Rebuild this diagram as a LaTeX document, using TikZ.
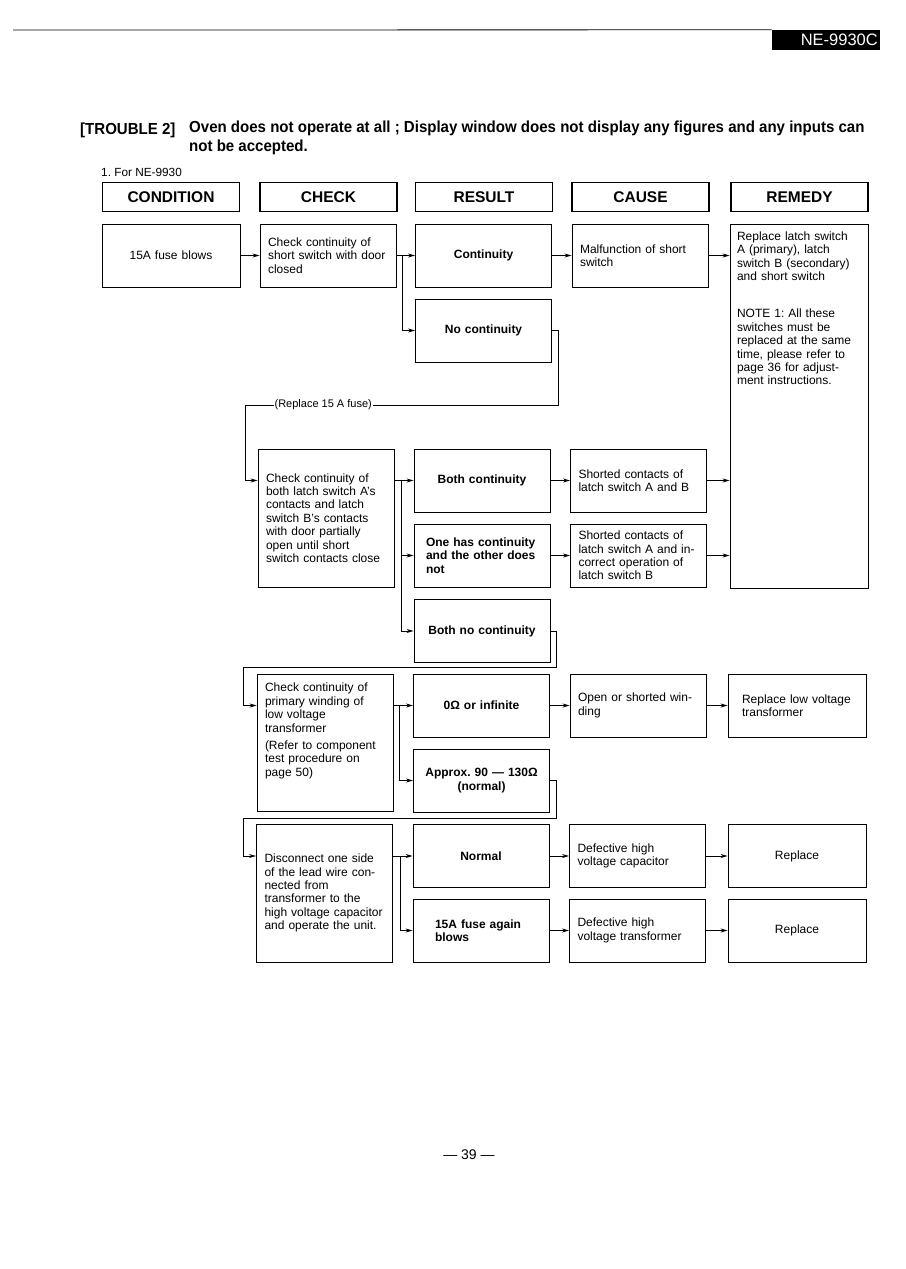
\documentclass[tikz,border=0pt]{standalone}
\usepackage{fontspec}
\setmainfont{Liberation Sans}
\newfontfamily\ttlfont[FakeStretch=0.94]{Liberation Sans}
\usetikzlibrary{arrows.meta}
\frenchspacing
\hyphenpenalty=10000

\begin{document}
\begin{tikzpicture}[x=1pt,y=-1pt,
  every node/.style={font=\fontsize{12}{13.4}\selectfont},
  hdr/.style={draw,line width=1.5pt,minimum width=137pt,minimum height=29pt,inner sep=0pt,font=\fontsize{15.5}{18}\selectfont\bfseries},
  box/.style={draw,line width=0.9pt,minimum width=136pt,minimum height=63pt,inner xsep=0pt,align=left,text width=120pt},
  res/.style={box,align=center,font=\fontsize{12}{13.4}\selectfont\bfseries},
  arr/.style={line width=0.9pt,-{Stealth[length=7pt,width=4pt]}},
  lbl/.style={fill=white,inner sep=1pt,font=\fontsize{11}{13}\selectfont}]
\useasboundingbox[fill=white] (0,0) rectangle (905,1269);
% page head
\node[fill=black,text=white,text width=104pt,align=right,minimum height=20pt,inner xsep=2pt,inner ysep=0pt,anchor=east,font=\fontsize{16.5}{18}\selectfont] (mdl) at (880,40) {NE-9930C};
\coordinate (rl) at (13,30);
\draw[line width=0.8pt] (rl) -- (mdl.north west);
\node[anchor=base west,inner sep=0pt,font=\ttlfont\bfseries\fontsize{16}{19}\selectfont] (trb) at (80,134) {[TROUBLE 2]};
\node[anchor=north west,inner sep=0pt,align=left,font=\ttlfont\bfseries\fontsize{16}{19}\selectfont] (ttl) at (189,121) {Oven does not operate at all ; Display window does not display any figures and any inputs can\\not be accepted.};
\node[anchor=west,inner sep=0pt,font=\fontsize{11.8}{13}\selectfont] (fornt) at (101,172) {1. For NE-9930};
% column heads
\foreach \nm/\x/\t in {hcond/171/CONDITION,hchk/328.5/CHECK,hres/484/RESULT,hcau/640.5/CAUSE,hrem/799.5/REMEDY}
  \node[hdr] (\nm) at (\x,197) {\t};
% row 1
\node[box,align=center,minimum width=138pt] (cond1) at (171,255.5) {15A fuse blows};
\node[box] (chk1) at (328,255.5) {Check continuity of\\short switch with door\\closed};
\node[res] (res1a) at (483.5,255.5) {Continuity};
\node[res] (res1b) at (483.5,330.5) {No continuity};
\node[box] (cau1) at (640,255.5) {Malfunction of short\\switch};
\node[box,text width=124pt,minimum width=138pt,minimum height=364pt] (rem1) at (799,406) {Replace latch switch\\A (primary), latch\\switch B (secondary)\\and short switch\\[24pt]NOTE 1: All these\\switches must be\\replaced at the same\\time, please refer to\\page 36 for adjust-\\ment instructions.\par\vspace*{182pt}\hbox{}};
\draw[arr] (cond1) -- (chk1);
\draw[arr] (chk1.east) -- ++(6,0) coordinate (br1) -- (res1a);
\draw[arr] (br1) |- (res1b);
\draw[arr] (res1a) -- (cau1);
\draw[arr] (cau1) -- (cau1 -| rem1.west);
% row 2
\node[box,minimum height=138pt] (chk2) at (326,518) {Check continuity of\\both latch switch A's\\contacts and latch\\switch B's contacts\\with door partially\\open until short\\switch contacts close};
\node[res] (res2a) at (482,480.5) {Both continuity};
\node[res,align=left,text width=112pt] (res2b) at (482,555.5) {One has continuity\\and the other does\\not};
\node[res] (res2c) at (482,631) {Both no continuity};
\node[box] (cau2a) at (638.5,480.5) {Shorted contacts of\\latch switch A and B};
\node[box] (cau2b) at (638.5,555.5) {Shorted contacts of\\latch switch A and in-\\correct operation of\\latch switch B};
\coordinate (lp1) at (245,405);
\draw[arr] (res1b.east) -- ++(6,0) |- node[pos=0.875,lbl] {(Replace 15 A fuse)} (lp1) |- (chk2.west |- res2a);
\draw[arr] (chk2.east |- res2a) -- ++(7,0) coordinate (br2) -- (res2a);
\draw[arr] (br2) |- (res2b);
\draw[arr] (br2) |- (res2c);
\draw[arr] (res2a) -- (cau2a);
\draw[arr] (res2b) -- (cau2b);
\draw[arr] (cau2a) -- (cau2a -| rem1.west);
\draw[arr] (cau2b) -- (cau2b -| rem1.west);
% row 3
\node[box,minimum height=137pt] (chk3) at (325,742.5) {Check continuity of\\primary winding of\\low voltage\\transformer\\[4pt](Refer to component\\test procedure on\\page 50)\par\vspace*{12pt}\hbox{}};
\node[res] (res3a) at (481.5,705.5) {0Ω or infinite};
\node[res] (res3b) at (481.5,780.5) {Approx. 90 — 130Ω\\(normal)};
\node[box] (cau3) at (638,705.5) {Open or shorted win-\\ding};
\node[box,text width=110pt,minimum width=138pt] (rem3) at (797,705.5) {Replace low voltage\\transformer};
\coordinate (lp2) at (243,667);
\draw[arr] (res2c.east) -- ++(6,0) |- (lp2) |- (chk3.west |- res3a);
\draw[arr] (chk3.east |- res3a) -- ++(6,0) coordinate (br3) -- (res3a);
\draw[arr] (br3) |- (res3b);
\draw[arr] (res3a) -- (cau3);
\draw[arr] (cau3) -- (rem3);
% row 4
\node[box,minimum height=138pt] (chk4) at (324.5,893) {Disconnect one side\\of the lead wire con-\\nected from\\transformer to the\\high voltage capacitor\\and operate the unit.};
\node[res] (res4a) at (481,856) {Normal};
\node[res,align=left,text width=92pt] (res4b) at (481,930.5) {15A fuse again\\blows};
\node[box] (cau4a) at (637.5,856) {Defective high\\voltage capacitor};
\node[box] (cau4b) at (637.5,930.5) {Defective high\\voltage transformer};
\node[box,align=center,minimum width=138pt] (rem4a) at (797,856) {Replace};
\node[box,align=center,minimum width=138pt] (rem4b) at (797,930.5) {Replace};
\coordinate (lp3) at (243,818);
\draw[arr] (res3b.east) -- ++(6,0) |- (lp3) |- (chk4.west |- res4a);
\draw[arr] (chk4.east |- res4a) -- ++(7,0) coordinate (br4) -- (res4a);
\draw[arr] (br4) |- (res4b);
\draw[arr] (res4a) -- (cau4a);
\draw[arr] (res4b) -- (cau4b);
\draw[arr] (cau4a) -- (rem4a);
\draw[arr] (cau4b) -- (rem4b);
% page number
\node[font=\fontsize{14}{16}\selectfont] (pgno) at (469,1155) {— 39 —};
\end{tikzpicture}
\end{document}
